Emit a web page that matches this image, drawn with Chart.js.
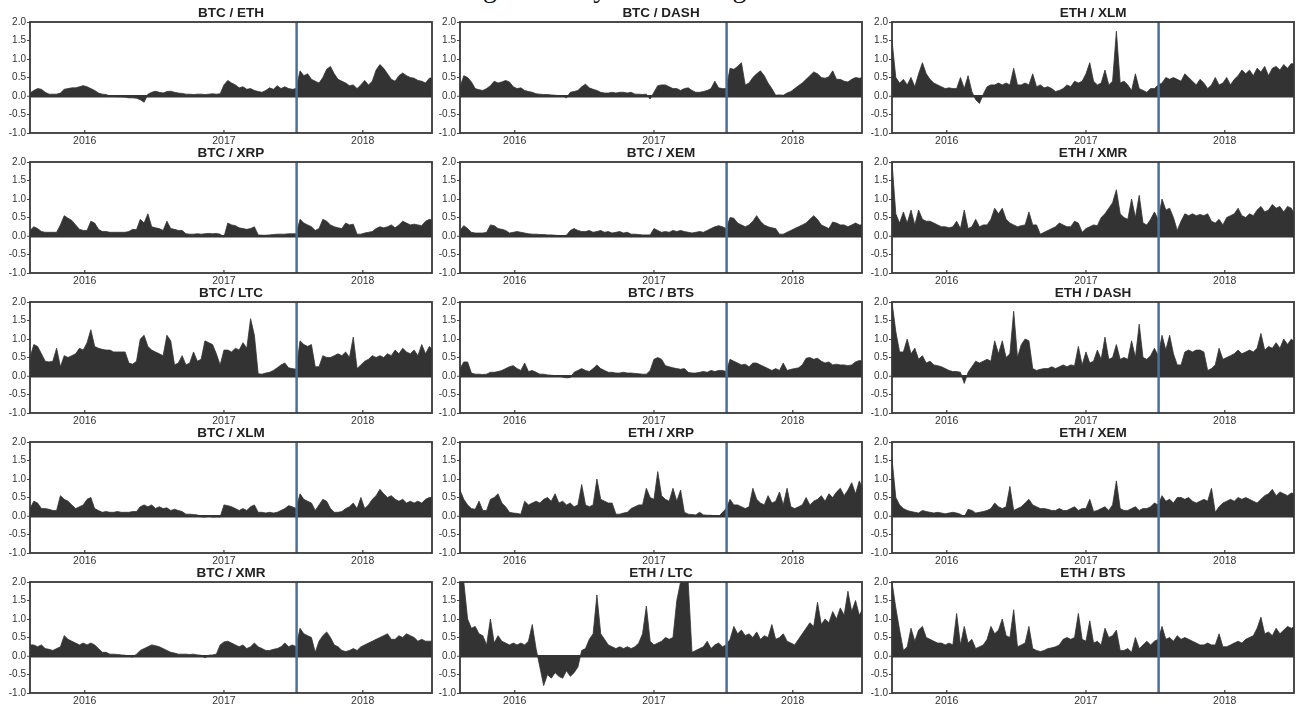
<!DOCTYPE html>
<html><head><meta charset="utf-8">
<script src="https://cdn.jsdelivr.net/npm/chart.js@4.4.0/dist/chart.umd.min.js"></script>
<style>
html,body{margin:0;padding:0;background:#fff;width:1301px;height:711px;overflow:hidden;position:relative}
#suptitle{position:absolute;left:413px;top:-26px;font-size:28px;line-height:28px;font-family:"Liberation Serif","Times New Roman",serif;color:#111;white-space:nowrap}
canvas{position:absolute}
</style></head><body>
<div id="suptitle">Rolling Volatility of the Hedge Ratio</div>
<script>
// ---- data ----
const PAIRS = ['BTC / ETH','BTC / DASH','ETH / XLM','BTC / XRP','BTC / XEM','ETH / XMR','BTC / LTC','BTC / BTS','ETH / DASH','BTC / XLM','ETH / XRP','ETH / XEM','BTC / XMR','ETH / LTC','ETH / BTS'];
const START_DATE = '2015-08-10';
const END_DATE = '2018-07-02';
const STEP_DAYS = 10;
const SPLIT_DATE = '2017-07-11';
const YEAR_LABELS = ['2016','2017','2018'];
const Y_TICKS = [-1.0,-0.5,0.0,0.5,1.0,1.5,2.0];

const btcEth = [0.08,0.15,0.2,0.18,0.1,0.05,0.05,0.05,0.08,0.18,
0.2,0.22,0.22,0.25,0.28,0.25,0.2,0.15,0.08,0.05,
0.04,0.0,-0.01,-0.02,-0.02,-0.03,-0.05,-0.05,-0.06,-0.1,
-0.17,0.05,0.1,0.13,0.1,0.08,0.12,0.13,0.1,0.08,
0.07,0.05,0.05,0.04,0.05,0.05,0.04,0.05,0.06,0.05,
0.06,0.3,0.42,0.35,0.3,0.22,0.25,0.18,0.2,0.15,
0.12,0.1,0.15,0.22,0.18,0.28,0.2,0.25,0.2,0.18,
0.2,0.68,0.55,0.6,0.45,0.4,0.35,0.5,0.72,0.8,
0.6,0.45,0.4,0.35,0.28,0.3,0.2,0.3,0.42,0.3,
0.4,0.7,0.85,0.75,0.6,0.45,0.4,0.55,0.62,0.55,
0.5,0.48,0.42,0.4,0.35,0.48,0.5];
const btcDash = [0.25,0.55,0.5,0.38,0.2,0.17,0.15,0.2,0.28,0.4,
0.35,0.38,0.42,0.38,0.25,0.2,0.22,0.15,0.12,0.1,
0.06,0.05,0.04,0.04,0.03,0.02,0.01,0.0,-0.05,0.1,
0.12,0.15,0.25,0.32,0.22,0.18,0.15,0.1,0.08,0.08,
0.1,0.08,0.1,0.1,0.08,0.1,0.05,0.05,0.04,0.05,
-0.08,0.1,0.28,0.3,0.3,0.25,0.2,0.2,0.15,0.2,
0.22,0.15,0.1,0.1,0.12,0.15,0.2,0.4,0.22,0.2,
0.2,0.75,0.72,0.8,0.9,0.3,0.35,0.5,0.6,0.68,
0.55,0.35,0.2,0.02,0.03,0.02,0.08,0.12,0.2,0.28,
0.35,0.45,0.55,0.65,0.6,0.5,0.48,0.52,0.68,0.45,
0.45,0.4,0.38,0.45,0.5,0.48,0.5];
const ethXlm = [1.5,0.5,0.35,0.45,0.3,0.5,0.25,0.6,0.9,0.6,
0.45,0.35,0.3,0.25,0.2,0.22,0.2,0.2,0.5,0.2,
0.55,0.12,-0.1,-0.2,0.05,0.25,0.3,0.3,0.35,0.3,
0.35,0.3,0.75,0.3,0.3,0.35,0.3,0.6,0.25,0.3,
0.22,0.25,0.2,0.12,0.15,0.2,0.3,0.25,0.4,0.35,
0.4,0.6,0.9,0.4,0.3,0.35,0.7,0.3,0.4,1.75,
0.35,0.4,0.3,0.15,0.6,0.2,0.15,0.1,0.2,0.2,
0.3,0.35,0.5,0.45,0.5,0.45,0.4,0.6,0.5,0.4,
0.3,0.45,0.35,0.2,0.3,0.5,0.3,0.35,0.5,0.3,
0.45,0.55,0.7,0.6,0.7,0.55,0.75,0.65,0.8,0.55,
0.75,0.8,0.7,0.85,0.75,0.88,0.85];
const btcXrp = [0.15,0.25,0.2,0.12,0.1,0.1,0.1,0.1,0.3,0.55,
0.48,0.42,0.3,0.18,0.15,0.15,0.4,0.35,0.18,0.12,
0.12,0.1,0.1,0.1,0.1,0.1,0.12,0.18,0.17,0.45,
0.35,0.6,0.25,0.22,0.2,0.15,0.4,0.2,0.18,0.15,
0.15,0.06,0.05,0.05,0.06,0.05,0.06,0.07,0.06,0.07,
0.05,-0.03,0.35,0.3,0.28,0.22,0.2,0.18,0.2,0.25,
0.03,0.02,0.02,0.03,0.04,0.05,0.05,0.05,0.06,0.06,
0.06,0.45,0.35,0.3,0.25,0.15,0.2,0.45,0.4,0.3,
0.25,0.22,0.2,0.35,0.3,0.32,0.05,0.05,0.08,0.1,
0.12,0.2,0.25,0.22,0.25,0.3,0.22,0.3,0.4,0.35,
0.3,0.32,0.3,0.28,0.4,0.45,0.42];
const btcXem = [0.15,0.28,0.2,0.1,0.08,0.08,0.08,0.1,0.3,0.28,
0.2,0.18,0.15,0.08,0.1,0.12,0.1,0.08,0.06,0.05,
0.05,0.04,0.04,0.03,0.03,0.02,0.01,0.0,0.02,0.15,
0.2,0.15,0.12,0.12,0.15,0.1,0.12,0.15,0.1,0.12,
0.08,0.1,0.12,0.08,0.1,0.05,0.05,0.04,0.03,0.03,
0.03,0.2,0.15,0.1,0.12,0.1,0.15,0.12,0.15,0.12,
0.1,0.08,0.1,0.12,0.1,0.15,0.2,0.25,0.28,0.25,
0.2,0.5,0.48,0.35,0.3,0.25,0.3,0.4,0.55,0.4,
0.3,0.25,0.22,0.2,0.05,0.05,0.1,0.15,0.2,0.25,
0.3,0.35,0.45,0.55,0.45,0.3,0.25,0.2,0.38,0.35,
0.3,0.3,0.25,0.3,0.35,0.3,0.3];
const ethXmr = [2.0,0.6,0.35,0.65,0.35,0.7,0.3,0.7,0.45,0.4,
0.4,0.35,0.3,0.25,0.25,0.22,0.25,0.4,0.2,0.7,
0.2,0.25,0.45,0.25,0.3,0.3,0.45,0.75,0.6,0.75,
0.45,0.35,0.3,0.25,0.28,0.3,0.65,0.3,0.3,0.05,
0.1,0.15,0.2,0.25,0.35,0.3,0.25,0.25,0.4,0.35,
0.1,0.2,0.25,0.3,0.28,0.5,0.6,0.75,0.9,1.25,
0.6,0.5,0.45,1.0,0.5,1.1,0.35,0.3,0.45,0.65,
0.45,1.0,0.7,0.75,0.5,0.15,0.4,0.6,0.55,0.6,
0.55,0.58,0.55,0.6,0.4,0.35,0.45,0.3,0.5,0.55,
0.6,0.75,0.55,0.5,0.6,0.55,0.7,0.8,0.65,0.7,
0.85,0.75,0.8,0.65,0.8,0.75,0.55];
const btcLtc = [0.5,0.85,0.8,0.6,0.4,0.38,0.4,0.75,0.25,0.55,
0.5,0.55,0.6,0.75,0.7,0.9,1.25,0.8,0.75,0.72,
0.7,0.7,0.65,0.65,0.65,0.65,0.35,0.32,0.4,1.0,
1.1,0.8,0.7,0.65,0.6,0.55,1.1,0.95,0.3,0.35,
0.55,0.3,0.35,0.65,0.4,0.45,0.95,0.9,0.85,0.6,
0.3,0.7,0.7,0.65,0.75,0.7,0.9,0.75,1.55,1.1,
0.06,0.05,0.08,0.1,0.15,0.22,0.3,0.35,0.22,0.2,
0.18,0.95,0.85,0.8,0.85,0.25,0.25,0.55,0.5,0.5,
0.55,0.6,0.55,0.65,0.5,1.05,0.2,0.3,0.4,0.45,
0.55,0.5,0.55,0.5,0.6,0.55,0.7,0.6,0.75,0.65,
0.6,0.7,0.55,0.85,0.6,0.8,0.7];
const btcBts = [0.2,0.38,0.38,0.08,0.05,0.05,0.04,0.05,0.1,0.1,
0.12,0.15,0.2,0.25,0.28,0.2,0.15,0.35,0.12,0.15,
0.1,0.05,0.05,0.03,0.02,0.01,0.0,-0.03,-0.05,-0.04,
0.1,0.15,0.2,0.15,0.12,0.2,0.3,0.2,0.15,0.1,
0.1,0.08,0.08,0.1,0.08,0.08,0.07,0.06,0.05,0.05,
0.15,0.45,0.5,0.45,0.28,0.25,0.22,0.2,0.18,0.2,
0.1,0.08,0.08,0.1,0.12,0.1,0.15,0.12,0.15,0.15,
0.12,0.45,0.4,0.35,0.3,0.32,0.25,0.35,0.35,0.3,
0.25,0.2,0.15,0.2,0.15,0.35,0.15,0.18,0.2,0.22,
0.3,0.48,0.5,0.45,0.48,0.4,0.35,0.38,0.3,0.32,
0.3,0.3,0.28,0.3,0.38,0.42,0.4];
const ethDash = [2.0,1.2,0.65,0.65,1.0,0.6,0.75,0.45,0.55,0.35,
0.4,0.3,0.28,0.25,0.2,0.15,0.12,0.12,0.1,-0.2,
0.1,0.25,0.4,0.35,0.4,0.45,0.4,0.95,0.6,0.95,
0.5,0.6,1.75,0.5,0.85,1.0,0.95,0.2,0.15,0.18,
0.2,0.2,0.25,0.2,0.25,0.3,0.25,0.3,0.28,0.8,
0.3,0.65,0.35,0.4,0.7,0.45,1.05,0.45,0.5,0.85,
0.45,0.5,0.45,0.95,0.5,1.4,0.5,0.45,0.55,0.75,
0.55,1.1,0.7,1.1,0.6,0.3,0.3,0.65,0.7,0.65,
0.7,0.7,0.65,0.15,0.2,0.3,0.75,0.45,0.5,0.55,
0.6,0.7,0.6,0.65,0.7,0.65,0.75,1.15,0.7,0.8,
0.75,0.9,0.75,1.0,0.85,1.0,0.9];
const btcXlm = [0.2,0.4,0.35,0.2,0.2,0.18,0.15,0.15,0.55,0.45,
0.4,0.3,0.2,0.25,0.3,0.45,0.5,0.2,0.15,0.1,
0.12,0.1,0.1,0.12,0.1,0.1,0.1,0.12,0.12,0.25,
0.3,0.25,0.3,0.2,0.25,0.2,0.22,0.15,0.18,0.15,
0.12,0.05,0.05,0.04,0.03,-0.02,-0.03,0.0,-0.03,-0.02,
-0.03,0.3,0.28,0.25,0.2,0.15,0.2,0.15,0.25,0.3,
0.1,0.1,0.08,0.1,0.08,0.1,0.15,0.2,0.28,0.25,
0.2,0.6,0.45,0.4,0.35,0.15,0.3,0.45,0.4,0.2,
0.1,0.1,0.12,0.2,0.25,0.35,0.2,0.5,0.2,0.3,
0.45,0.55,0.72,0.6,0.5,0.55,0.45,0.4,0.45,0.35,
0.4,0.35,0.4,0.35,0.45,0.5,0.5];
const ethXrp = [0.7,0.45,0.3,0.2,0.18,0.4,0.15,0.15,0.45,0.5,
0.6,0.35,0.25,0.1,0.08,0.07,0.05,0.4,0.3,0.35,
0.4,0.35,0.45,0.5,0.4,0.6,0.35,0.4,0.3,0.35,
0.25,0.3,0.85,0.3,0.25,0.3,1.0,0.45,0.4,0.35,
0.35,0.05,0.05,0.08,0.1,0.2,0.25,0.3,0.3,0.75,
0.5,0.45,1.2,0.55,0.45,0.4,0.75,0.4,0.7,0.1,
0.05,0.04,0.03,0.1,0.03,0.02,0.02,0.0,-0.02,0.1,
0.2,0.45,0.3,0.3,0.25,0.2,0.25,0.75,0.45,0.35,
0.3,0.55,0.35,0.4,0.65,0.3,0.75,0.25,0.2,0.25,
0.3,0.5,0.3,0.4,0.45,0.55,0.4,0.6,0.5,0.65,
0.75,0.55,0.7,0.9,0.6,0.95,0.7];
const ethXem = [1.55,0.5,0.3,0.2,0.15,0.12,0.1,0.08,0.15,0.12,
0.1,0.08,0.1,0.08,0.06,0.08,0.1,0.08,0.05,-0.03,
0.18,0.15,0.08,0.1,0.12,0.15,0.2,0.35,0.25,0.2,
0.25,0.8,0.15,0.2,0.25,0.35,0.45,0.3,0.25,0.2,
0.2,0.18,0.15,0.15,0.2,0.15,0.15,0.2,0.25,0.15,
0.2,0.2,0.45,0.12,0.15,0.2,0.25,0.15,0.3,0.95,
0.2,0.15,0.15,0.2,0.25,0.15,0.2,0.2,0.25,0.35,
0.3,0.55,0.4,0.45,0.35,0.5,0.5,0.45,0.5,0.4,
0.35,0.4,0.45,0.4,0.75,0.1,0.25,0.35,0.4,0.45,
0.4,0.5,0.45,0.5,0.45,0.4,0.35,0.45,0.55,0.6,
0.72,0.55,0.65,0.6,0.55,0.62,0.6];
const btcXmr = [0.3,0.3,0.25,0.3,0.2,0.18,0.15,0.2,0.25,0.55,
0.45,0.4,0.35,0.3,0.35,0.3,0.35,0.3,0.2,0.1,
0.1,0.05,0.05,0.04,0.03,0.02,0.0,-0.03,0.05,0.15,
0.2,0.25,0.3,0.28,0.25,0.2,0.15,0.1,0.08,0.05,
0.05,0.05,0.04,0.05,0.03,0.02,-0.05,0.02,0.03,0.05,
0.3,0.38,0.4,0.35,0.3,0.25,0.3,0.2,0.25,0.35,
0.25,0.2,0.15,0.15,0.18,0.2,0.25,0.35,0.25,0.3,
0.25,0.75,0.6,0.55,0.5,0.1,0.4,0.55,0.65,0.5,
0.3,0.25,0.15,0.12,0.15,0.2,0.15,0.25,0.3,0.35,
0.4,0.45,0.5,0.55,0.6,0.45,0.45,0.55,0.5,0.6,
0.55,0.5,0.4,0.45,0.4,0.4,0.4];
const ethLtc = [2.0,2.0,1.0,0.75,0.8,0.6,0.55,0.3,1.0,0.35,
0.55,0.4,0.35,0.3,0.35,0.3,0.35,0.3,0.4,0.85,
0.2,-0.3,-0.8,-0.5,-0.6,-0.45,-0.55,-0.6,-0.4,-0.55,
-0.45,-0.3,0.15,0.2,0.45,0.6,1.65,0.6,0.45,0.3,
0.25,0.2,0.25,0.2,0.25,0.2,0.25,0.35,0.6,1.35,
0.4,0.3,0.35,0.4,0.5,0.45,0.5,1.5,2.0,2.0,
2.0,0.1,0.15,0.2,0.25,0.4,0.2,0.3,0.35,0.25,
0.3,0.45,0.8,0.6,0.7,0.55,0.6,0.5,0.65,0.45,
0.55,0.5,0.85,0.45,0.5,0.6,0.4,0.35,0.3,0.45,
0.6,0.75,0.9,0.8,1.45,0.85,1.0,0.9,1.2,1.0,
1.3,1.1,1.75,1.2,1.5,1.1,1.3];
const ethBts = [2.0,1.3,0.7,0.15,0.25,0.75,0.4,0.7,0.8,0.5,
0.45,0.4,0.35,0.35,0.3,0.35,0.3,1.15,0.3,0.8,
0.35,0.45,0.2,0.25,0.3,0.45,0.8,0.6,0.7,1.0,
0.55,0.5,1.25,0.25,0.3,0.35,0.8,0.2,0.15,0.12,
0.15,0.2,0.22,0.25,0.3,0.45,0.5,0.45,0.5,1.15,
0.45,0.4,0.95,0.35,0.4,0.3,0.75,0.5,0.55,0.7,
0.15,0.15,0.2,0.1,0.5,0.2,0.3,0.4,0.3,0.4,
0.45,0.8,0.45,0.5,0.4,0.55,0.45,0.5,0.45,0.4,
0.35,0.3,0.3,0.35,0.3,0.3,0.6,0.25,0.25,0.3,
0.35,0.4,0.35,0.45,0.5,0.55,0.75,1.05,0.6,0.65,
0.55,0.75,0.6,0.7,0.8,0.75,0.8];

const SERIES = [btcEth, btcDash, ethXlm, btcXrp, btcXem, ethXmr, btcLtc, btcBts, ethDash, btcXlm, ethXrp, ethXem, btcXmr, ethLtc, ethBts];

// ---- layout & style ----
const COL_LEFT = [30, 460, 892];
const ROW_TOP0 = 22, ROW_STEP = 140;
const PLOT_W = 402, PLOT_H = 111, TITLE_H = 22, YAXIS_W = 30, XAXIS_H = 16, PAD_R = 4;
const AREA_COLOR = '#333333', SPLIT_COLOR = '#45739c', FRAME_COLOR = '#383838', TEXT_COLOR = '#333333';

Chart.defaults.font.family = '"Liberation Sans", Arial, Helvetica, sans-serif';

const DAY = 86400000;
const toMs = s => { const [y,m,d] = s.split('-').map(Number); return Date.UTC(y, m-1, d); };
const X_MIN = toMs(START_DATE), X_MAX = toMs(END_DATE), X_SPLIT = toMs(SPLIT_DATE);
const YEAR_VALUES = YEAR_LABELS.map(l => Date.UTC(+l, 0, 1));

const framePlugin = {
  id: 'frame',
  afterDatasetsDraw(chart) {
    const {ctx, chartArea: a} = chart;
    const xs = chart.scales.x;
    ctx.save();
    ctx.strokeStyle = FRAME_COLOR; ctx.lineWidth = 1.8;
    ctx.strokeRect(a.left, a.top, a.right - a.left, a.bottom - a.top);
    // small inward year tick marks on the bottom edge
    ctx.lineWidth = 1.2;
    xs.ticks.forEach(t => {
      const px = xs.getPixelForValue(t.value);
      ctx.beginPath(); ctx.moveTo(px, a.bottom); ctx.lineTo(px, a.bottom - 3); ctx.stroke();
    });
    ctx.restore();
  }
};

PAIRS.forEach((name, k) => {
  const r = Math.floor(k / 3), c = k % 3;
  const cv = document.createElement('canvas');
  const w = YAXIS_W + PLOT_W + PAD_R, h = TITLE_H + PLOT_H + XAXIS_H;
  cv.width = w; cv.height = h;
  cv.style.width = w + 'px'; cv.style.height = h + 'px';
  cv.style.left = (COL_LEFT[c] - YAXIS_W) + 'px';
  cv.style.top = (ROW_TOP0 + r * ROW_STEP - TITLE_H) + 'px';
  document.body.appendChild(cv);

  const pts = SERIES[k].map((v, i) => ({x: X_MIN + i * STEP_DAYS * DAY, y: v}));

  new Chart(cv, {
    type: 'line',
    data: {
      datasets: [
        {data: [{x: X_SPLIT, y: Y_TICKS[0]}, {x: X_SPLIT, y: Y_TICKS[Y_TICKS.length-1]}],
         borderColor: SPLIT_COLOR, borderWidth: 2.5, pointRadius: 0, fill: false, order: 0},
        {data: pts, borderColor: AREA_COLOR, backgroundColor: AREA_COLOR, borderWidth: 0.8,
         pointRadius: 0, tension: 0, fill: 'origin', order: 1}
      ]
    },
    options: {
      responsive: false, animation: false, devicePixelRatio: 1,
      layout: {padding: {left: 0, right: PAD_R, top: 0, bottom: 0}},
      plugins: {
        legend: {display: false}, tooltip: {enabled: false},
        title: {display: true, text: name, fullSize: false, color: '#222',
                font: {size: 13.5, weight: 'bold'}, padding: {top: 5.4, bottom: 0.4}}
      },
      scales: {
        x: {
          type: 'linear', min: X_MIN, max: X_MAX,
          afterBuildTicks: s => { s.ticks = YEAR_VALUES.map(v => ({value: v})); },
          afterFit: s => { s.height = XAXIS_H; },
          ticks: {autoSkip: false, maxRotation: 0, padding: 2, color: TEXT_COLOR, font: {size: 10.5},
                  callback: v => { const i = YEAR_VALUES.indexOf(v); return i >= 0 ? YEAR_LABELS[i] : ''; }},
          grid: {display: false, drawTicks: false},
          border: {display: false}
        },
        y: {
          min: Y_TICKS[0], max: Y_TICKS[Y_TICKS.length-1],
          afterBuildTicks: s => { s.ticks = Y_TICKS.map(v => ({value: v})); },
          afterFit: s => { s.width = YAXIS_W; },
          ticks: {padding: 1, color: TEXT_COLOR, font: {size: 10}, callback: v => Number(v).toFixed(1)},
          grid: {
            drawOnChartArea: true,
            color: ctx => (ctx.tick && ctx.tick.value === 0) ? AREA_COLOR : 'rgba(0,0,0,0)',
            lineWidth: ctx => (ctx.tick && ctx.tick.value === 0) ? 2.5 : 1,
            tickColor: '#444', tickLength: 3, tickWidth: 1
          },
          border: {display: false}
        }
      }
    },
    plugins: [framePlugin]
  });
});
</script>
</body></html>
